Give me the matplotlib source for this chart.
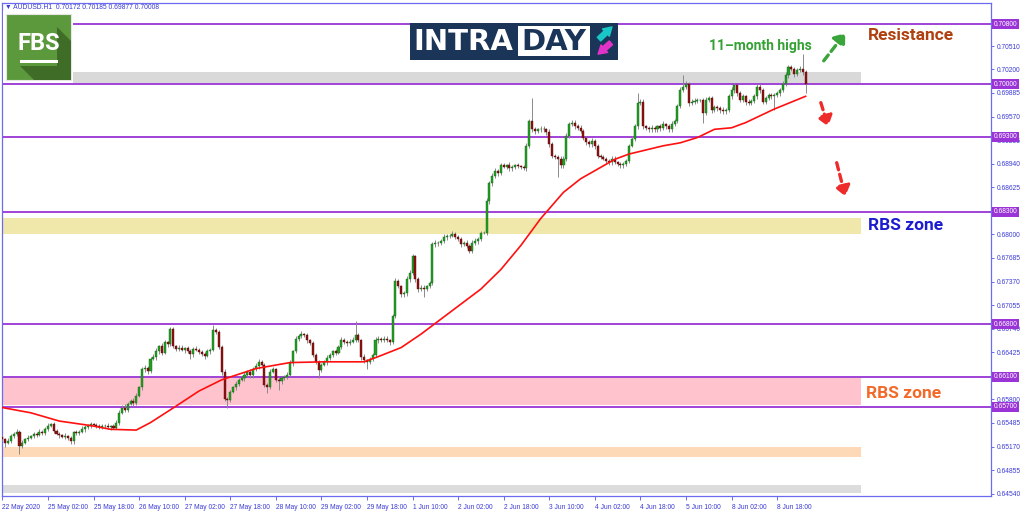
import matplotlib
matplotlib.use("Agg")
import matplotlib.pyplot as plt
from matplotlib.patches import Rectangle, Polygon, FancyArrowPatch
import numpy as np

# ---------------- data (prices in pips, 1 pip = 0.0001) ----------------
open0_pips = 6530
close_pips = [
    6527, 6522, 6525, 6531, 6534, 6537, 6518, 6522, 6527, 6529,
    6531, 6534, 6533, 6536, 6535, 6541, 6545, 6547, 6538, 6534,
    6532, 6530, 6531, 6528, 6524, 6536, 6535, 6537, 6540, 6543,
    6545, 6547, 6546, 6545, 6543, 6544, 6545, 6543, 6544, 6542,
    6549, 6562, 6569, 6566, 6574, 6578, 6575, 6585, 6596, 6620,
    6622, 6618, 6634, 6636, 6645, 6651, 6642, 6656, 6654, 6674,
    6651, 6647, 6649, 6646, 6648, 6645, 6640, 6647, 6646, 6643,
    6641, 6638, 6644, 6646, 6672, 6670, 6650, 6617, 6581, 6579,
    6590, 6596, 6601, 6606, 6608, 6613, 6617, 6612, 6621, 6624,
    6630, 6626, 6599, 6597, 6617, 6620, 6606, 6604, 6608, 6610,
    6613, 6628, 6644, 6661, 6664, 6667, 6666, 6659, 6655, 6639,
    6630, 6619, 6626, 6630, 6635, 6639, 6644, 6642, 6650, 6659,
    6657, 6655, 6657, 6659, 6666, 6659, 6637, 6632, 6630, 6634,
    6639, 6659, 6661, 6659, 6661, 6659, 6657, 6691, 6738, 6731,
    6720, 6722, 6740, 6749, 6771, 6740, 6727, 6729, 6727, 6731,
    6735, 6787, 6789, 6788, 6791, 6796, 6798, 6798, 6800, 6797,
    6794, 6787, 6789, 6785, 6778, 6789, 6791, 6794, 6802, 6802,
    6845, 6868, 6878, 6885, 6882, 6892, 6890, 6892, 6888, 6890,
    6892, 6891, 6890, 6889, 6918, 6951, 6940, 6938, 6940, 6941,
    6940, 6936, 6920, 6905, 6903, 6901, 6892, 6901, 6931, 6947,
    6949, 6945, 6942, 6938, 6929, 6923, 6920, 6925, 6918, 6905,
    6903, 6901, 6898, 6896, 6901, 6896, 6894, 6892, 6894, 6898,
    6918, 6927, 6944, 6975, 6977, 6944, 6942, 6940, 6942, 6940,
    6944, 6942, 6947, 6944, 6940, 6947, 6951, 6971, 6993, 6997,
    7001, 6975, 6977, 6978, 6979, 6979, 6962, 6979, 6982, 6966,
    6970, 6968, 6966, 6964, 6966, 6984, 6992, 6999, 6988, 6979,
    6984, 6977, 6975, 6978, 6984, 6997, 6993, 6977, 6982, 6986,
    6984, 6986, 6988, 6993, 7001, 7012, 7023, 7021, 7014, 7019,
    7021, 7017, 7001,
]
wick_up = [
    3, 2, 4, 3, 2, 3, 2, 4, 2, 3,  2, 3, 2, 4, 3, 2, 3, 2, 3, 2,
    3, 2, 4, 2, 3, 2, 3, 2, 4, 3,  2, 3, 2, 3, 2, 3, 2, 3, 2, 3,
    3, 4, 3, 5, 3, 2, 4, 3, 2, 3,  4, 3, 2, 4, 3, 2, 4, 3, 2, 2,
    3, 2, 4, 3, 2, 3, 2, 3, 4, 2,  3, 2, 3, 2, 7, 3, 2, 3, 4, 2,
    3, 2, 4, 3, 2, 3, 2, 3, 2, 4,  4, 3, 2, 3, 4, 3, 2, 3, 2, 3,
    3, 4, 2, 3, 3, 4, 2, 3, 2, 3,  3, 2, 3, 2, 4, 3, 2, 3, 2, 4,
    3, 2, 3, 4, 18, 3, 2, 3, 2, 3, 3, 4, 3, 2, 4, 3, 2, 3, 4, 3,
    2, 3, 4, 3, 3, 2, 3, 4, 3, 2,  3, 3, 4, 2, 3, 4, 3, 2, 5, 3,
    2, 3, 2, 3, 2, 3, 4, 3, 2, 3,  4, 3, 4, 3, 2, 3, 3, 2, 4, 3,
    2, 3, 2, 3, 4, 3, 31, 3, 2, 3, 3, 2, 4, 3, 2, 3, 4, 3, 4, 3,
    4, 3, 2, 4, 3, 2, 3, 4, 2, 3,  2, 3, 2, 3, 4, 3, 2, 3, 2, 3,
    3, 4, 3, 13, 4, 3, 2, 3, 4, 3, 2, 3, 4, 2, 3, 4, 3, 3, 4, 15,
    3, 2, 3, 4, 3, 2, 3, 4, 3, 2,  3, 2, 3, 4, 3, 3, 4, 3, 2, 3,
    3, 2, 4, 3, 3, 4, 3, 2, 3, 2,  3, 2, 3, 2, 3, 4, 3, 3, 2, 3,
    3, 19, 2,
]
wick_dn = [
    3, 5, 2, 3, 2, 3, 11, 3, 2, 3, 2, 3, 3, 2, 3, 2, 3, 2, 3, 2,
    3, 2, 3, 2, 4, 3, 2, 3, 2, 3,  2, 3, 2, 3, 2, 3, 2, 3, 4, 2,
    2, 3, 2, 3, 3, 2, 4, 3, 2, 3,  3, 4, 3, 2, 3, 4, 3, 2, 4, 3,
    3, 2, 3, 2, 4, 3, 6, 3, 2, 3,  3, 4, 2, 3, 2, 3, 3, 4, 3, 11,
    3, 2, 4, 3, 2, 3, 2, 3, 4, 3,  3, 2, 3, 9, 3, 2, 3, 11, 3, 2,
    3, 2, 3, 2, 3, 2, 3, 4, 3, 3,  3, 11, 3, 2, 4, 3, 2, 3, 2, 3,
    3, 4, 3, 2, 3, 3, 4, 3, 10, 3, 3, 2, 4, 3, 2, 3, 4, 3, 3, 3,
    4, 3, 4, 3, 3, 3, 4, 3, 11, 3, 3, 3, 4, 3, 2, 3, 4, 3, 2, 3,
    3, 4, 3, 3, 3, 3, 3, 4, 3, 2,  3, 4, 3, 3, 4, 3, 2, 3, 3, 3,
    3, 2, 3, 3, 4, 3, 3, 4, 3, 3,  3, 4, 3, 3, 3, 24, 4, 3, 3, 3,
    3, 4, 3, 3, 3, 4, 3, 3, 4, 3,  3, 2, 3, 4, 3, 2, 3, 4, 3, 3,
    3, 2, 3, 3, 3, 4, 3, 3, 4, 3,  3, 4, 3, 3, 4, 3, 3, 3, 3, 3,
    3, 4, 3, 3, 3, 3, 13, 3, 3, 4, 3, 3, 4, 3, 3, 3, 3, 3, 4, 3,
    3, 4, 3, 3, 3, 3, 4, 3, 3, 3,  3, 18, 3, 3, 3, 3, 3, 3, 4, 3,
    3, 4, 13,
]
# moving average read at sparse bars
ma_bars = [0, 10, 20, 31, 38, 47, 52, 61, 69, 77, 89, 101, 113, 127, 132, 140,
           147, 154, 161, 168, 175, 182, 189, 197, 203, 215, 220, 232, 238,
           244, 250, 256, 261, 271, 282]
ma_pips = [6569, 6562, 6551, 6545, 6540, 6539, 6549, 6571, 6591, 6606, 6621,
           6629, 6630, 6630, 6637, 6649, 6667, 6687, 6707, 6727, 6753, 6785,
           6821, 6856, 6874, 6900, 6907, 6918, 6922, 6929, 6940, 6942, 6949,
           6967, 6984]

level_lines = [0.70800, 0.70000, 0.69300, 0.68300, 0.66800, 0.66100, 0.65700]
zone_lo = [0.70020, 0.68000, 0.65730, 0.65030, 0.64545]
zone_hi = [0.70170, 0.68220, 0.66090, 0.65170, 0.64655]
zone_start = [24, 0, 0, 0, 0]
zone_end = 302
zone_colors = ["#d9d9d9", "#f0e7aa", "#ffc3cd", "#fdd9b8", "#dcdcdc"]

price_ticks = [0.70510, 0.70200, 0.69885, 0.69570, 0.69255, 0.68940, 0.68625,
               0.68000, 0.67685, 0.67370, 0.67055, 0.66740, 0.66425, 0.65800,
               0.65485, 0.65170, 0.64855, 0.64540]
time_ticks = [0, 16, 32, 48, 64, 80, 96, 112, 128, 144, 160, 176, 192, 208,
              224, 240, 256, 272]
time_labels = ["22 May 2020", "25 May 02:00", "25 May 18:00", "26 May 10:00",
               "27 May 02:00", "27 May 18:00", "28 May 10:00", "29 May 02:00",
               "29 May 18:00", "1 Jun 10:00", "2 Jun 02:00", "2 Jun 18:00",
               "3 Jun 10:00", "4 Jun 02:00", "4 Jun 18:00", "5 Jun 10:00",
               "8 Jun 02:00", "8 Jun 18:00"]
header = "\u25bc AUDUSD.H1  0.70172 0.70185 0.69877 0.70008"

# ---------------- styles ----------------
SMALL = ["Liberation Sans", "DejaVu Sans"]
BLUE = "#3a3ad6"
SPINE = "#6b6bef"
PURPLE = "#9a34d6"

fig = plt.figure(figsize=(10.24, 5.11), dpi=100)
fig.patch.set_facecolor("white")
W, H = 1024, 511
ax = fig.add_axes([2 / W, 1 - 496 / H, (991 - 2) / W, (496 - 3) / H])

closes = np.array(close_pips) / 1e4
opens = np.concatenate([[open0_pips / 1e4], closes[:-1]])
highs = np.maximum(opens, closes) + np.array(wick_up) / 1e4
lows = np.minimum(opens, closes) - np.array(wick_dn) / 1e4
idx = np.arange(len(closes))
up = closes >= opens

# zones
for lo, hi, s, c in zip(zone_lo, zone_hi, zone_start, zone_colors):
    ax.add_patch(Rectangle((s - 0.5, lo), zone_end - s, hi - lo, fc=c,
                           ec="none", zorder=1))
# levels
for lv in level_lines:
    ax.axhline(lv, color=PURPLE, lw=1.3, zorder=2)

# candles
ax.vlines(idx, lows, highs, color="#8a8a8a", lw=0.7, zorder=3)
body = np.maximum(np.abs(closes - opens), 0.00004)
ax.bar(idx[up], body[up], bottom=opens[up], width=0.72, color="#23a023",
       edgecolor="#146414", lw=0.3, zorder=4)
ax.bar(idx[~up], body[~up], bottom=closes[~up], width=0.72, color="#8e1212",
       edgecolor="#5a0808", lw=0.3, zorder=4)

# moving average
ax.plot(ma_bars, np.array(ma_pips) / 1e4, color="#ff1010", lw=1.2, zorder=5)

ax.set_xlim(-0.14, 347.1)
ax.set_ylim(0.64511, 0.71084)

for sp in ax.spines.values():
    sp.set_color(SPINE)
    sp.set_linewidth(0.9)

ax.yaxis.tick_right()
ax.set_yticks(price_ticks)
ax.set_yticklabels([f"{p:.5f}" for p in price_ticks])
ax.set_xticks(time_ticks)
ax.set_xticklabels(time_labels)
ax.tick_params(axis="y", length=2.5, width=0.7, color=SPINE, labelcolor=BLUE,
               labelsize=4.8, pad=1.5)
ax.tick_params(axis="x", length=3, width=0.7, color=SPINE, labelcolor=BLUE,
               labelsize=4.8, pad=2.5)
for t in ax.get_xticklabels():
    t.set_horizontalalignment("left")
    t.set_family(SMALL)
for t in ax.get_yticklabels():
    t.set_family(SMALL)

# highlighted level labels
for lv in level_lines:
    ax.text(1.0025, lv, f"{lv:.5f}", transform=ax.get_yaxis_transform(),
            ha="left", va="center", fontsize=4.8, color="white",
            family=SMALL, clip_on=False, zorder=20,
            bbox=dict(boxstyle="square,pad=0.25", fc=PURPLE, ec="none"))

# ---------------- overlay in pixel coordinates ----------------
ov = fig.add_axes([0, 0, 1, 1], zorder=10)
ov.set_xlim(0, W)
ov.set_ylim(H, 0)
ov.axis("off")
ov.patch.set_alpha(0)

ov.text(5, 7.5, header, fontsize=4.9, color=BLUE, family=SMALL,
        ha="left", va="center")

# FBS logo
ov.add_patch(Rectangle((3, 11), 70, 72, fc="white", ec="none"))
ov.add_patch(Rectangle((6, 14), 65, 66, fc="#5c993c", ec="#e6e6e6", lw=0.8))
ov.add_patch(Polygon([(57, 27), (71, 41), (71, 80), (34, 80), (20, 66),
                      (57, 66)], closed=True, fc="#3f6d27", ec="none"))
ov.text(38.5, 43, "FBS", fontsize=17, fontweight="bold", color="white",
        family=["Roboto", "DejaVu Sans"], ha="center", va="center")
ov.add_patch(Rectangle((20, 60), 38, 3.5, fc="white", ec="none"))

# INTRADAY logo
ov.add_patch(Rectangle((410, 23), 208, 37, fc="#1b3559", ec="none"))
ov.text(413, 42, "INTRA", fontsize=21, fontweight="bold", color="white",
        family=["DejaVu Sans"], ha="left", va="center")
ov.add_patch(Rectangle((518, 26.5), 72, 30, fc="white", ec="none"))
ov.text(554, 42, "DAY", fontsize=21, fontweight="bold", color="#1b3559",
        family=["DejaVu Sans"], ha="center", va="center")
ov.add_patch(FancyArrowPatch((597, 41), (614, 25), arrowstyle="simple,head_width=6,head_length=5,tail_width=3",
                             color="#19c6c6", mutation_scale=1.2))
ov.add_patch(FancyArrowPatch((613, 41), (596, 56), arrowstyle="simple,head_width=6,head_length=5,tail_width=3",
                             color="#e233c8", mutation_scale=1.2))

# annotations
ov.text(868, 35, "Resistance", fontsize=12.5, fontweight="bold",
        color="#b0400f", family=["Roboto", "DejaVu Sans"], ha="left",
        va="center")
ov.text(760, 46, "11\u2013month highs", fontsize=10, fontweight="bold",
        color="#33a133", family=["Roboto", "DejaVu Sans"], ha="center",
        va="center")
ov.text(868, 226, "RBS zone", fontsize=12.5, fontweight="bold",
        color="#1c1cd0", family=["Roboto", "DejaVu Sans"], ha="left",
        va="center")
ov.text(866, 393, "RBS zone", fontsize=12.5, fontweight="bold",
        color="#f2692a", family=["Roboto", "DejaVu Sans"], ha="left",
        va="center")

arrow_kw = dict(arrowstyle="-|>,head_width=3,head_length=4", lw=2.4,
                linestyle=(0, (2.2, 1.4)), mutation_scale=1.5)
ov.add_patch(FancyArrowPatch((822, 63), (847, 31), color="#3aa53a", **arrow_kw))
ov.add_patch(FancyArrowPatch((820, 100), (829, 129), color="#ee2b2b", **arrow_kw))
ov.add_patch(FancyArrowPatch((836, 160), (846, 199), color="#ee2b2b", **arrow_kw))

fig.savefig("out.png", dpi=100, facecolor="white")
